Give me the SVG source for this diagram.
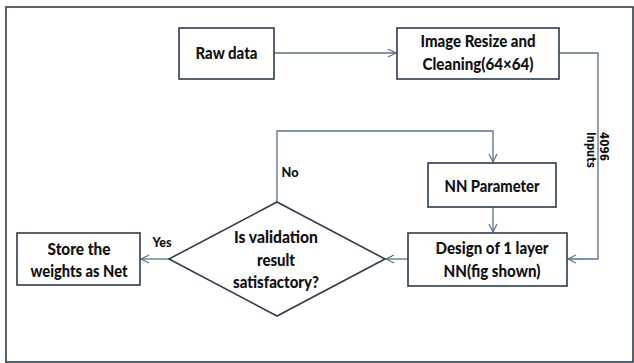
<svg xmlns="http://www.w3.org/2000/svg" width="634" height="363" viewBox="0 0 634 363">
  <defs>
    <marker id="arr" markerUnits="userSpaceOnUse" markerWidth="12" markerHeight="12" refX="9" refY="5" orient="auto">
      <path d="M1,1 L9,5 L1,9" fill="none" stroke="#5b6e8c" stroke-width="1.2"/>
    </marker>
    <style>
      .box { fill: #ffffff; stroke: #2e3b4b; stroke-width: 1.6; }
      .conn { fill: none; stroke: #5b6e8c; stroke-width: 1.3; }
      .t { font-family: Lato, "Liberation Sans", sans-serif; font-weight: 900; font-size: 16px; fill: #111111; text-anchor: middle; }
      .lbl { font-family: Lato, "Liberation Sans", sans-serif; font-weight: 900; font-size: 13.5px; fill: #111111; text-anchor: middle; }
      .rot { font-family: "DejaVu Sans", sans-serif; font-weight: 700; font-size: 13px; fill: #111111; }
    </style>
  </defs>
  <rect x="0" y="0" width="634" height="363" fill="#ffffff"/>
  <rect x="6" y="7" width="627" height="355" fill="none" stroke="#2e3b4b" stroke-width="1.6"/>

  <g id="connectors">
    <path class="conn" d="M274,53 L396,53" marker-end="url(#arr)"/>
    <path class="conn" d="M559,53 L598,53 L598,259 L568,259" marker-end="url(#arr)"/>
    <path class="conn" d="M277,202 L277,131 L493,131 L493,162" marker-end="url(#arr)"/>
    <path class="conn" d="M493,207 L493,232" marker-end="url(#arr)"/>
    <path class="conn" d="M408,259 L386,259" marker-end="url(#arr)"/>
    <path class="conn" d="M169,259 L141,259" marker-end="url(#arr)"/>
    <text class="lbl" x="290" y="177" textLength="17" lengthAdjust="spacingAndGlyphs">No</text>
    <text class="lbl" x="162" y="247" textLength="19" lengthAdjust="spacingAndGlyphs">Yes</text>
    <text class="rot" transform="translate(600,132) rotate(90)" textLength="29" lengthAdjust="spacingAndGlyphs">4096</text>
    <text class="rot" transform="translate(587,132) rotate(90)" textLength="36" lengthAdjust="spacingAndGlyphs">Inputs</text>
  </g>

  <g id="raw-data">
    <rect class="box" x="179" y="28" width="95" height="51"/>
    <text class="t" x="226.5" y="59" textLength="62" lengthAdjust="spacingAndGlyphs">Raw data</text>
  </g>

  <g id="image-resize">
    <rect class="box" x="397" y="28" width="162" height="51"/>
    <text class="t" x="478" y="47" textLength="115" lengthAdjust="spacingAndGlyphs">Image Resize and</text>
    <text class="t" x="478" y="70" textLength="111" lengthAdjust="spacingAndGlyphs">Cleaning(64×64)</text>
  </g>

  <g id="nn-parameter">
    <rect class="box" x="428" y="163" width="128" height="44"/>
    <text class="t" x="492" y="192" textLength="95" lengthAdjust="spacingAndGlyphs">NN Parameter</text>
  </g>

  <g id="design">
    <rect class="box" x="408" y="233" width="159" height="53"/>
    <text class="t" x="492" y="254" textLength="113" lengthAdjust="spacingAndGlyphs">Design of 1 layer</text>
    <text class="t" x="492" y="277" textLength="97" lengthAdjust="spacingAndGlyphs">NN(fig shown)</text>
  </g>

  <g id="validation">
    <polygon class="box" points="277,202 385,259 277,316 169,259"/>
    <text class="t" x="276" y="243" textLength="84" lengthAdjust="spacingAndGlyphs">Is validation</text>
    <text class="t" x="276" y="266" textLength="38" lengthAdjust="spacingAndGlyphs">result</text>
    <text class="t" x="276" y="288" textLength="86" lengthAdjust="spacingAndGlyphs">satisfactory?</text>
  </g>

  <g id="store">
    <rect class="box" x="17" y="233" width="123" height="52"/>
    <text class="t" x="79" y="255" textLength="63" lengthAdjust="spacingAndGlyphs">Store the</text>
    <text class="t" x="79" y="277" textLength="97" lengthAdjust="spacingAndGlyphs">weights as Net</text>
  </g>
</svg>
